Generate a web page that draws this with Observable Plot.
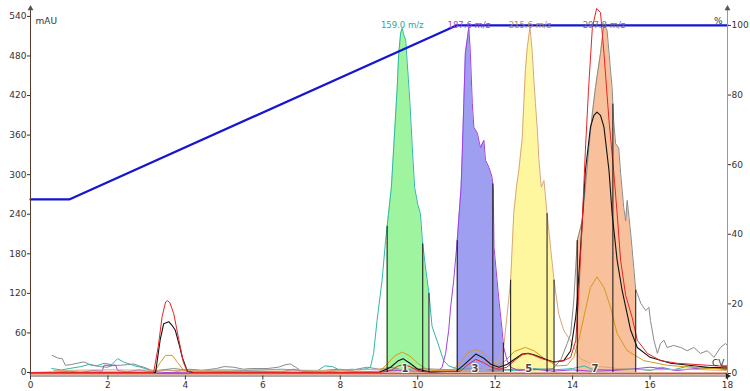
<!DOCTYPE html>
<html><head><meta charset="utf-8">
<script src="https://cdn.jsdelivr.net/npm/d3@7"></script>
<script src="https://cdn.jsdelivr.net/npm/@observablehq/plot@0.6"></script>
<style>body{margin:0;background:#fff} #chart svg{display:block}</style>
</head><body><div id="chart"></div>
<script>
// ---- axes ----
const xTicks = [0,2,4,6,8,10,12,14,16,18];
const leftTicks = [0,60,120,180,240,300,360,420,480,540];
const rightTicks = [0,20,40,60,80,100];
const pctToMAU = p => -1.5 + p * 5.278;

// ---- gradient (% B) ----
const gradient = [[0,50],[1,50],[11,100],[18,100]];

// ---- MS traces (time min, mAU) ----
const ms159 = [[0.55,6],[0.8,4],[1.0,6],[1.3,9],[1.5,12],[1.7,10],[1.9,14],[2.1,12],[2.25,21],[2.4,16],[2.55,13],[2.7,10],[2.85,8],[3.0,5],[3.2,2],[3.5,4],[3.8,2],[4.1,5],[4.5,3],[5.0,4],[5.5,3],[6.0,4],[6.5,5],[7.0,3],[7.4,2],[7.6,10],[7.8,9],[8.0,3],[8.3,5],[8.5,4],[8.7,6],[8.78,8],[8.86,29],[8.95,79],[9.08,140],[9.17,200],[9.32,281],[9.38,341],[9.47,432],[9.51,484],[9.56,515],[9.60,522],[9.64,512],[9.69,504],[9.73,469],[9.80,408],[9.86,341],[9.92,281],[10.0,255],[10.07,241],[10.12,200],[10.2,160],[10.29,120],[10.37,70],[10.5,48],[10.67,18],[10.8,10],[11.0,6],[11.5,4],[12,5],[12.5,3],[13,6],[13.5,4],[14,6],[14.3,10],[14.5,5],[15,4],[15.5,6],[16,3],[16.3,8],[16.6,4],[17,10],[17.3,5],[17.6,7],[18,4]];
const ms187 = [[0.6,0],[1.0,2],[1.3,0],[1.6,3],[1.85,2],[1.9,11],[2.2,11],[2.25,3],[2.5,1],[2.8,4],[3.0,2],[3.5,0],[4.5,1],[5.5,2],[6.5,1],[6.8,5],[7.0,2],[7.5,0],[8,3],[8.5,1],[9,2],[9.5,3],[10,2],[10.5,1],[10.63,8],[10.72,29],[10.80,64],[10.85,99],[10.93,140],[11.02,200],[11.12,281],[11.15,332],[11.19,408],[11.23,484],[11.32,523],[11.36,484],[11.41,408],[11.45,372],[11.54,363],[11.62,341],[11.71,352],[11.75,322],[11.84,311],[11.92,296],[11.95,281],[11.97,190],[12.09,114],[12.18,64],[12.22,38],[12.31,18],[12.40,8],[12.6,3],[13,5],[13.5,2],[14,4],[14.5,2],[15,3],[15.5,5],[16,8],[16.3,6],[16.7,3],[17,5],[17.5,8],[18,5]];
const ms215 = [[0.6,3],[2,4],[4,3],[6,4],[8,3],[9,5],[10,4],[11,3],[11.8,5],[12.0,10],[12.1,20],[12.22,38],[12.31,89],[12.40,140],[12.48,241],[12.55,281],[12.61,306],[12.70,356],[12.74,408],[12.78,458],[12.83,493],[12.90,524],[12.96,484],[13.0,443],[13.04,408],[13.09,367],[13.13,322],[13.19,281],[13.26,291],[13.34,241],[13.43,190],[13.52,140],[13.64,89],[13.77,64],[13.95,48],[14.08,33],[14.2,21],[14.46,14],[14.72,9],[15.2,6],[16,4],[17,5],[18,3]];
const ms297 = [[0.56,26],[0.7,22],[0.82,21],[0.9,11],[1.05,12],[1.2,14],[1.38,16],[1.5,13],[1.63,11],[1.8,9],[1.98,8],[2.15,11],[2.32,11],[2.5,12],[2.67,13],[2.8,10],[2.93,8],[3.18,2],[3.4,4],[3.7,6],[4.0,4],[4.39,3],[4.8,6],[5.0,9],[5.25,8],[5.5,5],[5.68,6],[6.11,6],[6.4,8],[6.6,12],[6.71,13],[6.85,8],[6.97,3],[7.2,2],[7.4,1],[7.7,4],[8.0,5],[8.26,3],[8.5,6],[8.7,8],[9.0,5],[9.3,8],[9.6,4],[10,6],[10.5,5],[11,4],[11.5,6],[12,3],[12.5,5],[13,4],[13.5,6],[13.7,20],[13.86,44],[13.95,59],[14.03,109],[14.08,159],[14.12,200],[14.25,230],[14.33,281],[14.42,341],[14.51,393],[14.59,432],[14.72,484],[14.81,529],[14.89,519],[14.98,458],[15.02,432],[15.06,382],[15.11,347],[15.19,341],[15.24,302],[15.32,250],[15.37,230],[15.41,261],[15.50,211],[15.58,159],[15.63,125],[15.67,120],[15.76,105],[15.89,94],[15.97,99],[16.01,79],[16.10,49],[16.19,29],[16.27,44],[16.36,49],[16.44,38],[16.61,41],[16.79,38],[16.96,33],[17.13,38],[17.3,29],[17.48,33],[17.65,23],[17.82,38],[17.95,44],[18,41]];

// ---- UV traces ----
const uvRed = [[0,0],[3.18,0],[3.3,40],[3.4,85],[3.49,107],[3.53,109],[3.6,106],[3.7,89],[3.83,50],[3.95,15],[4.05,2],[4.2,0],[9.0,0],[9.3,3],[9.5,10],[9.64,12],[9.8,9],[10.0,3],[10.2,1],[11.1,2],[11.3,12],[11.5,20],[11.7,15],[11.9,8],[12.1,5],[12.3,8],[12.5,18],[12.7,27],[12.85,29],[13.0,26],[13.2,21],[13.5,16],[13.77,18],[13.95,23],[14.08,48],[14.15,109],[14.25,230],[14.33,337],[14.41,428],[14.51,523],[14.62,552],[14.72,546],[14.81,484],[14.94,382],[15.06,306],[15.15,241],[15.24,170],[15.37,117],[15.54,83],[15.67,49],[15.93,29],[16.27,18],[16.7,14],[17.48,11],[18,9]];
const uvBlack = [[0,0],[3.23,0],[3.35,50],[3.44,74],[3.57,77],[3.65,72],[3.74,64],[3.85,40],[3.92,23],[4.05,2],[4.2,0],[9.0,0],[9.3,8],[9.5,18],[9.62,21],[9.8,14],[10.0,5],[10.3,1],[11.0,2],[11.2,12],[11.5,28],[11.7,22],[11.9,12],[12.1,8],[12.3,12],[12.5,20],[12.7,28],[12.85,29],[13.0,27],[13.3,20],[13.51,16],[13.77,18],[13.95,33],[14.08,84],[14.12,109],[14.25,230],[14.33,306],[14.46,372],[14.55,390],[14.63,395],[14.72,390],[14.81,372],[14.94,306],[15.02,241],[15.15,170],[15.28,124],[15.5,64],[15.67,38],[16.0,23],[16.53,14],[17.48,8],[18,7]];
const uvGold = [[0,0],[0.6,1],[3.2,1],[3.35,15],[3.49,26],[3.66,26],[3.8,15],[3.95,4],[4.1,1],[9.0,1],[9.2,12],[9.4,25],[9.6,31],[9.8,25],[10.0,14],[10.2,6],[10.4,3],[10.9,4],[11.1,15],[11.3,30],[11.5,35],[11.7,30],[11.9,18],[12.1,10],[12.3,20],[12.5,32],[12.78,38],[13.0,33],[13.3,20],[13.6,10],[13.86,11],[14.03,23],[14.16,49],[14.29,84],[14.46,129],[14.63,145],[14.81,129],[14.98,99],[15.15,59],[15.41,33],[15.84,18],[16.44,11],[17.48,6],[18,6]];
const cvBase = [[0,-1.5],[18,-1.5]];

// ---- fractions ----
const fracStart = [9.21, 11.02, 12.40, 14.12];
const fracMid   = [10.13, 11.94, 13.34, 15.04];
const fracEnd   = [10.29, 12.21, 13.52, 15.63];
const fracLabels = ["1","3","5","7"];
const peakLabels = ["159.0 m/z","187.6 m/z","215.6 m/z","297.8 m/z"];
const peakColors = ["#2aa89c","#9b3fd6","#b08a6a","#7a6a80"];
const fillColors = ["#9ff59f","#9f9ff2","#fff79f","#f9c09c"];
const lineColors = ["#2fb8a8","#a040e0","#d9a67c","#8a8a8a"];
const msTraces = [ms159, ms187, ms215, ms297];

function interp(s, t){
  for (let i=1;i<s.length;i++){
    if (s[i][0] >= t){ const [a,b]=[s[i-1],s[i]]; return a[1] + (b[1]-a[1])*(t-a[0])/(b[0]-a[0]); }
  }
  return s[s.length-1][1];
}
const fills = msTraces.map((s,i) => [[fracStart[i], interp(s,fracStart[i])], ...s.filter(d => d[0]>fracStart[i] && d[0]<fracEnd[i]), [fracEnd[i], interp(s,fracEnd[i])]]);
const fracLines = [];
msTraces.forEach((s,i) => [fracStart[i],fracMid[i],fracEnd[i]].forEach(t => fracLines.push({t, v: interp(s,t)})));
const labelData = msTraces.map((s,i) => ({t: s.reduce((m,d)=> d[1]>m[1]?d:m)[0], text: peakLabels[i], color: peakColors[i]}));
const fracLabelData = fracLabels.map((l,i)=>({t:(fracStart[i]+fracMid[i])/2, text:l}));
const rightMap = new Map(rightTicks.map(p => [pctToMAU(p), String(p)]));
const yMin = -5.3, yMax = 552;

const X = d => d[0], Y = d => d[1];
const marks = [];
fills.forEach((f,i) => marks.push(Plot.areaY(f, {x:X, y:Y, fill: fillColors[i]})));
marks.push(Plot.line(cvBase, {x:X, y:Y, stroke:"#c0603a", strokeWidth:2}));
[3,0,1,2].forEach(i => marks.push(Plot.line(msTraces[i], {x:X, y:Y, stroke: lineColors[i], strokeWidth:1})));
marks.push(Plot.line(uvGold, {x:X, y:Y, stroke:"#d49a18", strokeWidth:1}));
marks.push(Plot.line(uvBlack, {x:X, y:Y, stroke:"#111", strokeWidth:1.1}));
marks.push(Plot.line(uvRed, {x:X, y:Y, stroke:"#e82424", strokeWidth:1}));
marks.push(Plot.ruleX(fracLines, {x:"t", y1:0, y2:"v", stroke:"#111", strokeWidth:1}));
marks.push(Plot.text(fracLabelData, {x:"t", y:0, text:"text", dy:-4, fontWeight:"bold", fontSize:10, fill:"#444", stroke:"#fff", strokeWidth:2, paintOrder:"stroke"}));
marks.push(Plot.line(gradient, {x:X, y: d => pctToMAU(d[1]), stroke:"#1515d2", strokeWidth:2.2}));
marks.push(Plot.text(labelData, {x:"t", frameAnchor:"top", dy:13, text:"text", fill:"color", fontSize:8.5}));
// axis lines
marks.push(Plot.ruleY([yMin], {stroke:"#555"}));
marks.push(Plot.ruleX([0], {y1:yMin, y2:yMax, stroke:"#5a3a2a"}));
marks.push(Plot.ruleX([18], {y1:yMin, y2:yMax, stroke:"#999"}));
marks.push(Plot.dot([[0,yMax],[18,yMax]], {x:X, y:Y, symbol:"triangle", r:2.2, fill:"#555", stroke:"none"}));
marks.push(Plot.dot([[18,yMin]], {x:X, y:Y, symbol:"triangle", r:2.2, fill:"#222", stroke:"none", rotate:90}));
marks.push(Plot.axisX({ticks:xTicks, tickSize:4, tickPadding:2, fontSize:9, color:"#333", label:null}));
marks.push(Plot.axisY({ticks:leftTicks, anchor:"left", tickSize:3, tickPadding:1, fontSize:9, color:"#333", label:null}));
marks.push(Plot.axisY({ticks:rightTicks.map(pctToMAU), anchor:"right", tickSize:3, tickPadding:1, fontSize:9, color:"#333", label:null, tickFormat: v => rightMap.get(v)}));
marks.push(Plot.text(["mAU"], {frameAnchor:"top-left", dx:5, dy:9, textAnchor:"start", fontSize:9, fill:"#333"}));
marks.push(Plot.text(["%"], {frameAnchor:"top-right", dx:-5, dy:9, textAnchor:"end", fontSize:9, fill:"#333"}));
marks.push(Plot.text([[18, uvRed[uvRed.length-1][1]]], {x:X, y:Y, text:()=>"CV", textAnchor:"end", dx:-3, dy:-3, fontSize:9, fill:"#333"}));
marks.push(Plot.ruleY([uvRed[uvRed.length-1][1]], {x1:17.85, x2:18, stroke:"#9a4a2a", strokeWidth:2.5}));

const chart = Plot.plot({
  width:750, height:391, marginLeft:30, marginRight:23, marginTop:8, marginBottom:15.5,
  x:{domain:[0,18], label:null}, y:{domain:[yMin,yMax], label:null},
  style:{fontFamily:"'DejaVu Sans', sans-serif", fontSize:"9px", background:"#fff"},
  marks
});
document.getElementById("chart").append(chart);
</script></body></html>
